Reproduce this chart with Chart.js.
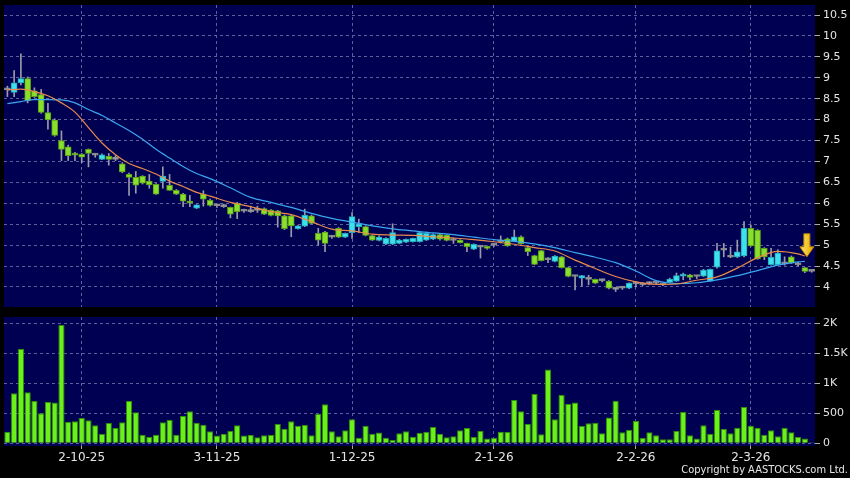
<!DOCTYPE html>
<html>
<head>
<meta charset="utf-8">
<script src="https://cdn.jsdelivr.net/npm/chart.js@4.4.1/dist/chart.umd.min.js"></script>
<style>
  html, body { margin: 0; padding: 0; background: #000; }
  #wrap { position: relative; width: 850px; height: 478px; background: #000; overflow: hidden; }
  #priceChart { position: absolute; left: 0; top: 0; }
  #volChart { position: absolute; left: 0; top: 310px; }
  #copy { position: absolute; right: 2px; top: 463px; color: #e8e8e8; white-space: nowrap;
          font: 11px "DejaVu Sans Condensed", "Liberation Sans Narrow", "DejaVu Sans", sans-serif; }
</style>
</head>
<body>
<div id="wrap">
  <canvas id="priceChart" width="850" height="310"></canvas>
  <canvas id="volChart" width="850" height="168"></canvas>
  <div id="copy">Copyright by AASTOCKS.com Ltd.</div>
</div>
<script>
// trading days (d-m-yy)
const dates = [
  "16-9-25","17-9-25","18-9-25","19-9-25","22-9-25","23-9-25","24-9-25","25-9-25","26-9-25","29-9-25","30-9-25",
  "2-10-25","3-10-25","6-10-25","8-10-25","9-10-25","10-10-25","13-10-25","14-10-25","15-10-25","16-10-25",
  "17-10-25","20-10-25","21-10-25","22-10-25","23-10-25","24-10-25","27-10-25","28-10-25","30-10-25","31-10-25",
  "3-11-25","4-11-25","5-11-25","6-11-25","7-11-25","10-11-25","11-11-25","12-11-25","13-11-25","14-11-25",
  "17-11-25","18-11-25","19-11-25","20-11-25","21-11-25","24-11-25","25-11-25","26-11-25","27-11-25","28-11-25",
  "1-12-25","2-12-25","3-12-25","4-12-25","5-12-25","8-12-25","9-12-25","10-12-25","11-12-25","12-12-25",
  "15-12-25","16-12-25","17-12-25","18-12-25","19-12-25","22-12-25","23-12-25","24-12-25","29-12-25","30-12-25","31-12-25",
  "2-1-26","5-1-26","6-1-26","7-1-26","8-1-26","9-1-26","12-1-26","13-1-26","14-1-26","15-1-26","16-1-26",
  "19-1-26","20-1-26","21-1-26","22-1-26","23-1-26","26-1-26","27-1-26","28-1-26","29-1-26","30-1-26",
  "2-2-26","3-2-26","4-2-26","5-2-26","6-2-26","9-2-26","10-2-26","11-2-26","12-2-26","13-2-26",
  "16-2-26","20-2-26","23-2-26","24-2-26","25-2-26","26-2-26","27-2-26",
  "2-3-26","3-3-26","4-3-26","5-3-26","6-3-26","9-3-26","10-3-26","11-3-26","12-3-26","13-3-26"
];
const dateTicks = ["2-10-25", "3-11-25", "1-12-25", "2-1-26", "2-2-26", "2-3-26"];

const opens = [
  8.71,8.65,8.88,8.98,8.69,8.60,8.17,7.99,7.50,7.35, 7.19,7.17,7.29,7.15,7.05,7.12,7.05,6.94,6.69,6.62,
  6.65,6.53,6.45,6.52,6.43,6.31,6.22,6.05,5.88,6.22, 6.07,5.94,5.92,5.90,6.00,5.81,5.80,5.83,5.87,5.84,
  5.82,5.70,5.70,5.39,5.45,5.70,5.28,5.31,5.19,5.40, 5.19,5.30,5.44,5.44,5.23,5.11,5.02,5.02,5.04,5.07,
  5.08,5.08,5.12,5.14,5.25,5.24,5.11,5.12,5.04,4.90, 4.95,4.97,5.00,5.08,5.15,5.09,5.20,4.94,4.75,4.87,
  4.65,4.61,4.72,4.46,4.25,4.21,4.18,4.18,4.15,4.14, 3.94,3.97,3.97,4.07,4.05,4.08,4.09,4.05,4.11,4.14,
  4.26,4.29,4.25,4.26,4.14,4.47,4.88,4.71,4.72,4.74, 5.40,5.35,4.92,4.53,4.53,4.55,4.72,4.53,4.46,4.37
];
const highs = [
  8.80,9.17,9.57,9.02,8.76,8.72,8.39,8.02,7.73,7.39, 7.22,7.19,7.30,7.19,7.18,7.19,7.14,6.97,6.72,6.76,
  6.66,6.69,6.47,6.87,6.69,6.33,6.24,6.19,5.97,6.30, 6.10,5.98,5.98,5.91,6.02,5.86,5.93,5.93,5.89,5.85,
  5.83,5.72,5.72,5.47,5.86,5.72,5.40,5.33,5.23,5.42, 5.29,5.78,5.62,5.46,5.24,5.22,5.18,5.51,5.14,5.15,
  5.17,5.32,5.31,5.27,5.27,5.25,5.17,5.13,5.05,5.03, 4.98,4.98,5.03,5.22,5.17,5.36,5.22,4.95,4.76,4.88,
  4.70,4.75,4.73,4.47,4.27,4.28,4.28,4.19,4.17,4.15, 3.99,4.01,4.10,4.13,4.10,4.12,4.11,4.08,4.21,4.33,
  4.33,4.30,4.27,4.42,4.43,5.04,5.04,4.95,5.12,5.56, 5.48,5.37,4.94,4.92,4.89,4.72,4.74,4.59,4.47,4.38
];
const lows = [
  8.55,8.55,8.83,8.40,8.53,8.15,7.77,7.60,7.02,7.02, 7.02,6.97,6.87,7.10,7.04,6.91,7.02,6.73,6.19,6.24,
  6.46,6.36,6.21,6.36,6.31,6.21,5.92,5.92,5.87,5.93, 5.93,5.90,5.90,5.65,5.63,5.78,5.78,5.78,5.73,5.70,
  5.43,5.37,5.20,5.38,5.44,5.51,5.00,4.84,5.16,5.18, 5.18,5.16,5.30,5.22,5.11,5.10,5.01,5.01,5.03,5.06,
  5.07,5.07,5.11,5.13,5.12,5.10,5.04,5.05,4.84,4.89, 4.69,4.90,4.97,5.05,4.97,5.08,5.02,4.75,4.53,4.62,
  4.58,4.60,4.45,4.24,3.93,4.02,4.05,4.08,4.12,3.95, 3.89,3.94,3.96,4.00,4.03,4.05,4.06,4.03,4.10,4.13,
  4.17,4.17,4.20,4.25,4.13,4.45,4.72,4.70,4.70,4.72, 4.97,4.66,4.65,4.52,4.52,4.52,4.56,4.50,4.34,4.35
];
const closes = [
  8.71,8.88,8.98,8.45,8.55,8.17,7.99,7.62,7.29,7.14, 7.15,7.10,7.19,7.15,7.16,7.05,7.05,6.75,6.62,6.43,
  6.48,6.44,6.22,6.65,6.31,6.22,6.05,6.00,5.96,6.10, 5.95,5.94,5.92,5.74,5.80,5.81,5.80,5.83,5.74,5.71,
  5.70,5.39,5.46,5.46,5.72,5.52,5.12,5.04,5.19,5.19, 5.28,5.68,5.51,5.23,5.12,5.19,5.16,5.30,5.12,5.14,
  5.16,5.30,5.28,5.25,5.14,5.11,5.11,5.06,4.96,5.02, 4.95,4.92,5.00,5.08,4.98,5.20,5.03,4.84,4.54,4.63,
  4.65,4.74,4.46,4.25,4.25,4.27,4.18,4.09,4.15,3.97, 3.94,3.97,4.09,4.07,4.05,4.08,4.09,4.05,4.19,4.27,
  4.31,4.23,4.25,4.40,4.42,4.86,4.88,4.71,4.84,5.40, 4.98,4.67,4.72,4.71,4.81,4.55,4.57,4.53,4.37,4.37
];
const volumes = [
  194,833,1572,850,706,500,689,678,1972,361, 367,422,383,300,156,339,256,350,706,517,
  144,106,144,350,389,144,456,533,344,311, 200,128,161,206,300,128,139,100,133,139,
  320,244,367,294,306,133,489,650,200,117, 217,400,94,294,161,178,94,56,167,200,
  111,172,194,272,161,100,117,217,256,106, 206,78,94,194,189,722,533,322,822,150,
  1228,400,806,656,678,289,333,344,167,428, 711,183,222,372,94,183,133,67,67,206,
  522,133,78,300,156,556,239,167,261,606, 289,256,144,217,117,261,183,106,78,17
];
// moving averages: [day index, value]
const maFast = [
  [0,8.71],[2,8.73],[4,8.67],[6,8.57],[8,8.40],[10,8.18],[12,7.81],[14,7.44],[16,7.16],[18,6.95],
  [20,6.83],[22,6.70],[24,6.53],[26,6.40],[28,6.26],[30,6.17],[33,6.02],[36,5.92],[39,5.80],[42,5.73],
  [45,5.56],[48,5.38],[51,5.34],[54,5.26],[57,5.24],[60,5.23],[63,5.20],[66,5.17],[69,5.13],[72,5.08],
  [75,5.02],[78,4.94],[81,4.86],[84,4.64],[87,4.44],[90,4.25],[93,4.12],[96,4.06],[99,4.07],[102,4.16],
  [105,4.24],[108,4.45],[111,4.70],[114,4.85],[117,4.79],[118,4.74]
];
const maSlow = [
  [0,8.38],[2,8.43],[4,8.48],[6,8.48],[8,8.47],[10,8.40],[12,8.24],[14,8.10],[16,7.92],[18,7.74],
  [20,7.53],[22,7.29],[24,7.08],[26,6.88],[28,6.71],[30,6.59],[33,6.37],[36,6.14],[39,6.02],[42,5.90],
  [45,5.76],[48,5.64],[51,5.55],[54,5.46],[57,5.39],[60,5.34],[63,5.29],[66,5.25],[69,5.19],[72,5.13],
  [75,5.09],[78,5.03],[81,4.94],[84,4.82],[87,4.71],[90,4.58],[93,4.38],[96,4.15],[99,4.08],[102,4.10],
  [105,4.17],[108,4.27],[111,4.39],[114,4.52],[117,4.60],[118,4.61]
];
const priceTicks = [4, 4.5, 5, 5.5, 6, 6.5, 7, 7.5, 8, 8.5, 9, 9.5, 10, 10.5];
const volTicks = [0, 500, 1000, 1500, 2000];
const volTickLabels = ["0", "500", "1K", "1.5K", "2K"];
const arrowDay = 118, arrowPrice = 4.72;

const NAVY = "#000052";
const GRID = "#5f5f9c";
const TEXT = "#e4e4e4";
const UP = "#3fe0ee", DOWN = "#88e02c", FLAT = "#a8a8a8", WICK = "#9a9aaa";
const UP_EDGE = "#1fa8b8", DOWN_EDGE = "#5a9e18", FLAT_EDGE = "#8a8a8a";

Chart.defaults.font.family = "'DejaVu Sans', Verdana, sans-serif";
Chart.defaults.color = TEXT;

function candleColor(i) {
  if (closes[i] > opens[i]) return UP;
  if (closes[i] < opens[i]) return DOWN;
  return FLAT;
}
function candleEdge(i) {
  if (closes[i] > opens[i]) return UP_EDGE;
  if (closes[i] < opens[i]) return DOWN_EDGE;
  return FLAT_EDGE;
}

// navy plot area
const plotBg = {
  id: "plotBg",
  beforeDraw(chart) {
    const { ctx, chartArea: a } = chart;
    ctx.save();
    ctx.fillStyle = NAVY;
    ctx.fillRect(a.left, a.top, a.right - a.left, a.bottom - a.top);
    ctx.restore();
  }
};

// the yellow down arrow at the last day
const arrowMark = {
  id: "arrowMark",
  afterDatasetsDraw(chart) {
    const ctx = chart.ctx;
    const x = chart.scales.x.getPixelForValue(arrowDay) + 2;
    const y = chart.scales.y.getPixelForValue(arrowPrice);
    ctx.save();
    ctx.beginPath();
    ctx.moveTo(x, y);
    ctx.lineTo(x - 7, y - 10);
    ctx.lineTo(x - 3, y - 10);
    ctx.lineTo(x - 3, y - 23);
    ctx.lineTo(x + 3, y - 23);
    ctx.lineTo(x + 3, y - 10);
    ctx.lineTo(x + 7, y - 10);
    ctx.closePath();
    const g = ctx.createLinearGradient(x - 7, 0, x + 7, 0);
    g.addColorStop(0, "#ffe566");
    g.addColorStop(1, "#e8a800");
    ctx.fillStyle = g;
    ctx.fill();
    ctx.strokeStyle = "#b88400";
    ctx.lineWidth = 1;
    ctx.stroke();
    ctx.restore();
  }
};

function dayTicks(scale) {
  scale.ticks = dateTicks.map(d => ({ value: dates.indexOf(d) }));
}
// keep the label overhang from shrinking the plot area
function noPad(s) {
  s.paddingTop = 0; s.paddingBottom = 0; s.paddingLeft = 0; s.paddingRight = 0;
}

const gridX = { color: GRID, offset: false, tickColor: "#aaaaaa", tickBorderDash: [] };

new Chart(document.getElementById("priceChart"), {
  type: "bar",
  data: {
    labels: dates,
    datasets: [
      {
        type: "line",
        data: maFast.map(([i, v]) => ({ x: dates[i], y: v })),
        borderColor: "#e88a4a",
        borderWidth: 1.2,
        pointRadius: 0,
        cubicInterpolationMode: "monotone",
        order: 1
      },
      {
        type: "line",
        data: maSlow.map(([i, v]) => ({ x: dates[i], y: v })),
        borderColor: "#3aa6f0",
        borderWidth: 1.2,
        pointRadius: 0,
        cubicInterpolationMode: "monotone",
        order: 1
      },
      {
        data: opens.map((o, i) => [o, closes[i]]),
        backgroundColor: ctx => candleColor(ctx.dataIndex),
        borderColor: ctx => candleEdge(ctx.dataIndex),
        borderWidth: 1,
        borderSkipped: false,
        barThickness: 6,
        minBarLength: 2,
        grouped: false,
        order: 2
      },
      {
        data: lows.map((l, i) => [l, highs[i]]),
        backgroundColor: WICK,
        barThickness: 1,
        grouped: false,
        order: 3
      }
    ]
  },
  options: {
    responsive: false,
    animation: false,
    devicePixelRatio: 1,
    layout: { padding: { left: 4, top: 5, right: 0, bottom: 3 } },
    plugins: { legend: { display: false }, tooltip: { enabled: false } },
    scales: {
      x: {
        offset: true,
        grid: { ...gridX, drawTicks: false },
        border: { display: false, dash: [3, 3] },
        ticks: { display: false },
        afterBuildTicks: dayTicks,
        afterFit: s => { s.height = 0; noPad(s); }
      },
      y: {
        position: "right",
        min: 3.52,
        max: 10.74,
        grid: { color: GRID, tickColor: "#aaaaaa", tickLength: 5, tickBorderDash: [] },
        border: { display: false, dash: [3, 3] },
        ticks: { font: { size: 11 }, padding: 3, callback: v => String(v) },
        afterBuildTicks: s => { s.ticks = priceTicks.map(v => ({ value: v })); },
        afterFit: s => { s.width = 35; noPad(s); }
      }
    }
  },
  plugins: [plotBg, arrowMark]
});

new Chart(document.getElementById("volChart"), {
  type: "bar",
  data: {
    labels: dates,
    datasets: [{
      data: volumes,
      backgroundColor: "#6cf01a",
      borderColor: "#2f8f06",
      borderWidth: 1,
      barPercentage: 0.92,
      categoryPercentage: 1
    }]
  },
  options: {
    responsive: false,
    animation: false,
    devicePixelRatio: 1,
    layout: { padding: { left: 4, top: 7, right: 0, bottom: 0 } },
    plugins: { legend: { display: false }, tooltip: { enabled: false } },
    scales: {
      x: {
        offset: true,
        grid: { ...gridX, tickLength: 3 },
        border: { display: false, dash: [3, 3] },
        ticks: { font: { size: 12 }, padding: 2, maxRotation: 0, autoSkip: false },
        afterBuildTicks: dayTicks,
        afterFit: s => { s.height = 32; noPad(s); }
      },
      y: {
        position: "right",
        min: -45,
        max: 2105,
        grid: { color: GRID, tickColor: "#aaaaaa", tickLength: 5, tickBorderDash: [] },
        border: { display: false, dash: [3, 3] },
        ticks: {
          font: { size: 11 },
          padding: 3,
          callback: v => volTickLabels[volTicks.indexOf(v)]
        },
        afterBuildTicks: s => { s.ticks = volTicks.map(v => ({ value: v })); },
        afterFit: s => { s.width = 35; noPad(s); }
      }
    }
  },
  plugins: [plotBg]
});
</script>
</body>
</html>
